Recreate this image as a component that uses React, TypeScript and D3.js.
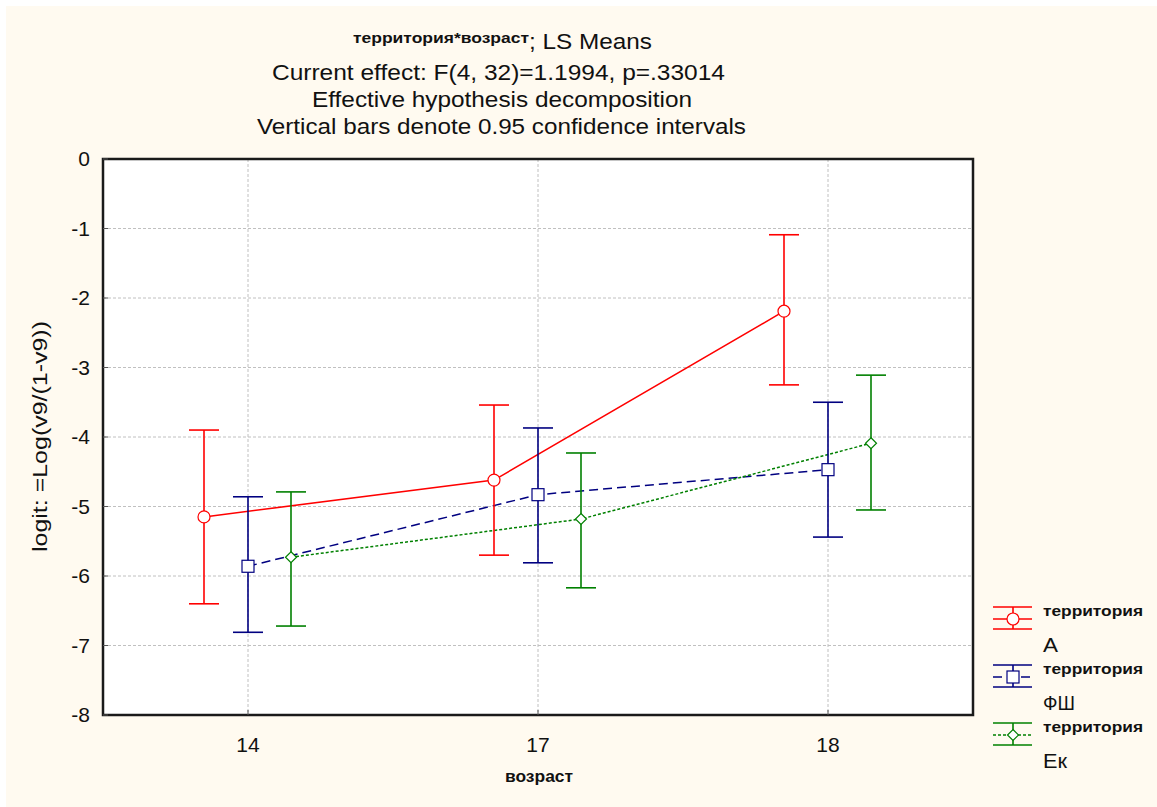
import React from "react";
import * as d3 from "d3";

const categories = ["14", "17", "18"];
const seriesNames = ["А", "ФШ", "Ек"];
const meansA = [-5.15, -4.62, -2.19];
const upperA = [-3.9, -3.54, -1.09];
const lowerA = [-6.4, -5.70, -3.25];
const meansF = [-5.86, -4.83, -4.47];
const upperF = [-4.86, -3.87, -3.5];
const lowerF = [-6.81, -5.81, -5.44];
const meansE = [-5.73, -5.18, -4.09];
const upperE = [-4.79, -4.23, -3.11];
const lowerE = [-6.72, -6.17, -5.05];
const yTicks = [0, -1, -2, -3, -4, -5, -6, -7, -8];

const W = 1157, H = 807;
const L = 103, R = 973, T = 159, B = 715;

export default function App() {
  const x = d3.scalePoint<string>().domain(categories).range([L, R]).padding(0.5);
  const y = d3.scaleLinear().domain([-8, 0]).range([B, T]);
  const series = [
    { name: seriesNames[0], m: meansA, u: upperA, l: lowerA, color: "#ff0000", dash: "", off: -44, marker: "circle", nw: 15 },
    { name: seriesNames[1], m: meansF, u: upperF, l: lowerF, color: "#000080", dash: "9,5", off: 0, marker: "square", nw: 32 },
    { name: seriesNames[2], m: meansE, u: upperE, l: lowerE, color: "#008000", dash: "3,2", off: 43, marker: "diamond", nw: 24 },
  ];
  const line = d3.line<[number, number]>().x(d => d[0]).y(d => d[1]);
  const font = "'Liberation Sans', Arial, sans-serif";

  const marker = (kind: string, cx: number, cy: number, color: string, key?: string) => {
    if (kind === "circle") return <circle key={key} cx={cx} cy={cy} r={6} fill="white" stroke={color} strokeWidth={1.2} />;
    if (kind === "square") return <rect key={key} x={cx - 6} y={cy - 6} width={12} height={12} fill="white" stroke={color} strokeWidth={1.2} />;
    return <path key={key} d={`M${cx},${cy - 5.5}L${cx + 5.5},${cy}L${cx},${cy + 5.5}L${cx - 5.5},${cy}Z`} fill="white" stroke={color} strokeWidth={1.2} />;
  };

  return (
    <div style={{ position: "fixed", left: 0, top: 0 }}>
      <svg width={W} height={H} style={{ display: "block" }} fontFamily={font}>
        <rect x={0} y={0} width={W} height={H} fill="white" />
        <rect x={6} y={6} width={W - 6} height={H - 6} fill="#fffaf0" />
        <rect x={L} y={T} width={R - L} height={B - T} fill="white" />
        {/* grid */}
        {yTicks.filter(t => t !== 0 && t !== -8).map(t => (
          <line key={"gy" + t} x1={L} x2={R} y1={y(t)} y2={y(t)} stroke="#c0c0c0" strokeDasharray="3,2" strokeWidth={1} />
        ))}
        {categories.map(c => (
          <line key={"gx" + c} x1={x(c)} x2={x(c)} y1={T} y2={B} stroke="#c0c0c0" strokeDasharray="3,2" strokeWidth={1} />
        ))}
        {/* series lines */}
        {series.map(s => (
          <path key={"ln" + s.name}
            d={line(categories.map((c, i) => [(x(c) as number) + s.off, y(s.m[i])]))!}
            fill="none" stroke={s.color} strokeWidth={1.5} strokeDasharray={s.dash || undefined} />
        ))}
        {/* error bars */}
        {series.map(s => categories.map((c, i) => {
          const cx = (x(c) as number) + s.off;
          return (
            <g key={"eb" + s.name + c} stroke={s.color} strokeWidth={1.6}>
              <line x1={cx} x2={cx} y1={y(s.u[i])} y2={y(s.l[i])} />
              <line x1={cx - 15} x2={cx + 15} y1={y(s.u[i])} y2={y(s.u[i])} />
              <line x1={cx - 15} x2={cx + 15} y1={y(s.l[i])} y2={y(s.l[i])} />
            </g>
          );
        }))}
        {series.map(s => categories.map((c, i) => marker(s.marker, (x(c) as number) + s.off, y(s.m[i]), s.color, "mk" + s.name + c)))}
        {/* frame */}
        <rect x={L} y={T} width={R - L} height={B - T} fill="none" stroke="#1a1a1a" strokeWidth={2.5} />
        {/* y ticks */}
        {yTicks.map(t => (
          <g key={"yt" + t}>
            <line x1={L} x2={L + 5} y1={y(t)} y2={y(t)} stroke="#555" />
            <text x={90} y={y(t) + 7} textAnchor="end" fontSize={21} fill="#111">{t}</text>
          </g>
        ))}
        {categories.map(c => (
          <g key={"xt" + c}>
            <line x1={x(c)} x2={x(c)} y1={B} y2={B - 5} stroke="#555" />
            <text x={x(c)} y={752} textAnchor="middle" fontSize={21} fill="#111">{c}</text>
          </g>
        ))}
        <text x={505} y={782} fontSize={16} fontWeight="bold" fill="#111" textLength={68} lengthAdjust="spacingAndGlyphs">возраст</text>
        <text transform={`translate(47,${(T + B) / 2}) rotate(-90)`} x={-115} fontSize={20} fill="#111" textLength={231} lengthAdjust="spacingAndGlyphs">logit: =Log(v9/(1-v9))</text>
        {/* title */}
        <text x={353} y={43} fontSize={14} fontWeight="bold" fill="#111" textLength={176} lengthAdjust="spacingAndGlyphs">территория*возраст</text>
        <text x={529} y={49} fontSize={22} fill="#111" textLength={123} lengthAdjust="spacingAndGlyphs">; LS Means</text>
        <text x={272} y={80} fontSize={22} fill="#111" textLength={453} lengthAdjust="spacingAndGlyphs">Current effect: F(4, 32)=1.1994, p=.33014</text>
        <text x={312} y={107} fontSize={22} fill="#111" textLength={380} lengthAdjust="spacingAndGlyphs">Effective hypothesis decomposition</text>
        <text x={257} y={134} fontSize={22} fill="#111" textLength={489} lengthAdjust="spacingAndGlyphs">Vertical bars denote 0.95 confidence intervals</text>
        {/* legend */}
        {series.map((s, i) => {
          const cy = 619 + i * 58;
          const cx = 1013;
          return (
            <g key={"lg" + s.name}>
              <g stroke={s.color} strokeWidth={1.6}>
                <line x1={993} x2={1032} y1={cy - 12} y2={cy - 12} />
                <line x1={993} x2={1032} y1={cy + 10} y2={cy + 10} />
                <line x1={cx} x2={cx} y1={cy - 12} y2={cy + 10} />
                <line x1={993} x2={1032} y1={cy} y2={cy} strokeDasharray={s.dash || undefined} />
              </g>
              {marker(s.marker, cx, cy, s.color)}
              <text x={1043} y={cy - 3} fontSize={15} fontWeight="bold" fill="#111" textLength={100} lengthAdjust="spacingAndGlyphs">территория</text>
              <text x={1043} y={cy + 33} fontSize={21} fill="#111" textLength={s.nw} lengthAdjust="spacingAndGlyphs">{s.name}</text>
            </g>
          );
        })}
      </svg>
    </div>
  );
}
